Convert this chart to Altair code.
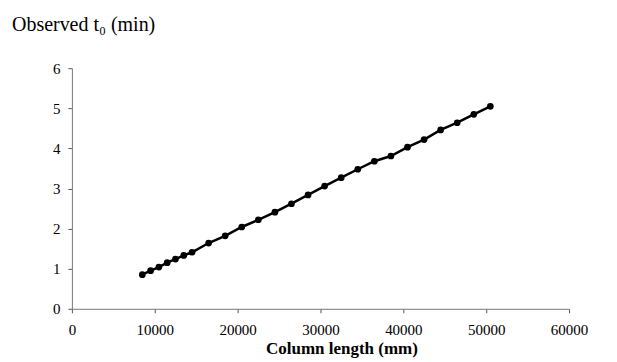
import altair as alt
import pandas as pd

column_length = [8500, 9500, 10500, 11500, 12500, 13500, 14500,
                 16500, 18500, 20500, 22500, 24500, 26500, 28500, 30500,
                 32500, 34500, 36500, 38500, 40500, 42500, 44500, 46500,
                 48500, 50500]
observed_t0 = [0.85, 0.95, 1.04, 1.15, 1.24, 1.33, 1.41,
               1.64, 1.82, 2.04, 2.22, 2.41, 2.62, 2.84, 3.06,
               3.27, 3.48, 3.68, 3.81, 4.03, 4.22, 4.46, 4.64,
               4.85, 5.05]
x_ticks = [0, 10000, 20000, 30000, 40000, 50000, 60000]
y_ticks = [0, 1, 2, 3, 4, 5, 6]

df = pd.DataFrame({"length": column_length, "t0": observed_t0})

FONT = "Liberation Serif"

x = alt.X("length:Q",
          scale=alt.Scale(domain=[0, 60000], nice=False, zero=False),
          axis=alt.Axis(values=x_ticks, format="d", title="Column length (mm)",
                        titleFont=FONT, titleFontSize=17, titleFontWeight="bold",
                        titleColor="black", titleX=270, titleY=45,
                        titleBaseline="alphabetic", titleAnchor="middle",
                        labelFont=FONT, labelFontSize=15, labelColor="black",
                        labelPadding=10, tickSize=4, tickColor="#555",
                        domainColor="#777", grid=False, labelFlush=False))
y = alt.Y("t0:Q",
          scale=alt.Scale(domain=[0, 6], nice=False),
          axis=alt.Axis(values=y_ticks, title=None,
                        labelFont=FONT, labelFontSize=15, labelColor="black",
                        labelPadding=8, tickSize=4, tickColor="#555",
                        domainColor="#777", grid=False))

line = alt.Chart(df).mark_line(color="black", strokeWidth=2.5).encode(x=x, y=y)
pts = alt.Chart(df).mark_circle(color="black", opacity=1, size=45).encode(x=x, y=y)

chart = (line + pts).properties(
    width=498, height=241,
    padding={"left": 64, "top": 60, "right": 40, "bottom": 53},
    autosize=alt.AutoSizeParams(type="none"),
    background="white",
    title=alt.TitleParams(text="Observed t₀ (min)", anchor="start", frame="group",
                          font=FONT, fontSize=20, fontWeight="normal",
                          color="black", dx=-60, dy=-22),
).configure_view(strokeWidth=0, stroke=None)

chart.save("out.html", embed_options={"renderer": "svg", "actions": False})
